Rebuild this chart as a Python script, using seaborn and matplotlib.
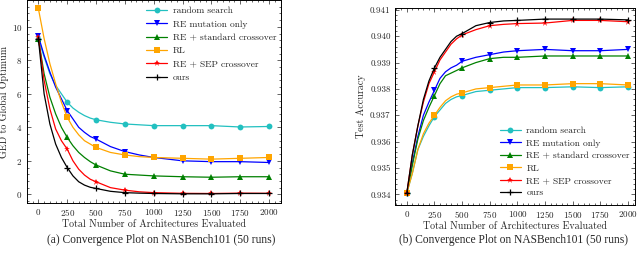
import matplotlib
matplotlib.use("Agg")
import matplotlib.pyplot as plt
import seaborn as sns
from matplotlib.ticker import AutoMinorLocator, MultipleLocator, FormatStrFormatter

# ---------------- data ----------------
evals = [0, 50, 100, 150, 200, 250, 300, 350, 400, 450, 500, 625, 750, 875,
         1000, 1250, 1500, 1750, 2000]
labels = ["random search", "RE mutation only", "RE + standard crossover",
          "RL", "RE + SEP crossover", "ours"]

# (a) GED to global optimum
ged_random = [9.3, 8.2, 7.2, 6.5, 6.0, 5.5, 5.15, 4.9, 4.7, 4.55, 4.45, 4.3, 4.2, 4.15,
              4.1, 4.1, 4.1, 4.02, 4.05]
ged_mut = [9.45, 8.3, 7.3, 6.4, 5.7, 5.0, 4.5, 4.0, 3.7, 3.45, 3.3, 2.85, 2.55, 2.35,
           2.2, 2.0, 1.95, 1.95, 1.9]
ged_std = [9.3, 7.2, 5.8, 4.8, 4.0, 3.4, 2.9, 2.5, 2.2, 1.95, 1.75, 1.4, 1.2, 1.15,
           1.1, 1.05, 1.02, 1.05, 1.05]
ged_rl = [11.1, 9.3, 7.8, 6.6, 5.5, 4.6, 4.0, 3.55, 3.2, 3.0, 2.8, 2.5, 2.35, 2.25,
          2.2, 2.15, 2.1, 2.15, 2.2]
ged_sep = [9.4, 6.8, 5.1, 3.9, 3.2, 2.7, 2.0, 1.5, 1.15, 0.9, 0.75, 0.4, 0.25, 0.15,
           0.1, 0.06, 0.05, 0.07, 0.06]
ged_ours = [9.3, 6.0, 4.2, 3.0, 2.2, 1.6, 1.1, 0.75, 0.55, 0.42, 0.35, 0.18, 0.1, 0.07,
            0.05, 0.03, 0.03, 0.05, 0.05]

# (b) test accuracy
acc_random = [0.93405, 0.9348, 0.9357, 0.9362, 0.9366, 0.93695, 0.9372, 0.93745, 0.9376,
              0.9377, 0.93775, 0.9379, 0.93795, 0.9380, 0.93805, 0.93805, 0.93808, 0.93805, 0.93808]
acc_mut = [0.93405, 0.9352, 0.9362, 0.9370, 0.9375, 0.93795, 0.9384, 0.93865, 0.9388,
           0.9389, 0.93905, 0.9392, 0.9393, 0.9394, 0.93945, 0.9395, 0.93945, 0.93945, 0.9395]
acc_std = [0.93405, 0.9351, 0.9361, 0.9368, 0.9373, 0.93775, 0.9382, 0.9385, 0.9386,
           0.9387, 0.9388, 0.9390, 0.93915, 0.9392, 0.9392, 0.93925, 0.93925, 0.93925, 0.93925]
acc_rl = [0.93405, 0.9348, 0.9357, 0.9363, 0.9367, 0.9370, 0.9373, 0.93755, 0.9377,
          0.9378, 0.93785, 0.9380, 0.93805, 0.9381, 0.93815, 0.93815, 0.9382, 0.9382, 0.93815]
acc_sep = [0.93405, 0.9355, 0.9366, 0.9375, 0.9382, 0.93865, 0.9391, 0.9394, 0.9397,
           0.9399, 0.94005, 0.94025, 0.9404, 0.94045, 0.94048, 0.9405, 0.9406, 0.9406, 0.94055]
acc_ours = [0.93405, 0.9355, 0.9366, 0.9376, 0.9383, 0.9388, 0.9392, 0.9395, 0.9398,
            0.9400, 0.9401, 0.9404, 0.94052, 0.94058, 0.9406, 0.94065, 0.94065, 0.94065, 0.94062]

ged_series = [ged_random, ged_mut, ged_std, ged_rl, ged_sep, ged_ours]
acc_series = [acc_random, acc_mut, acc_std, acc_rl, acc_sep, acc_ours]

colors = ["#22c0c0", "#0000ff", "#008000", "#ffa500", "#ff0000", "#000000"]
markers = ["o", "v", "^", "s", "*", "+"]
msizes = [4.2, 4.2, 4.2, 4.2, 4.8, 5.0]

mark_idx = [i for i, x in enumerate(evals) if x % 250 == 0]

# ---------------- style ----------------
sns.set_style("ticks")
plt.rcParams.update({
    "font.family": ["cmr10", "DejaVu Serif"],
    "axes.formatter.use_mathtext": True,
    "axes.unicode_minus": False,
    "xtick.direction": "in",
    "ytick.direction": "in",
    "xtick.top": True,
    "ytick.right": True,
    "xtick.labelsize": 6.5,
    "ytick.labelsize": 6.5,
    "axes.labelsize": 7.2,
    "xtick.major.size": 3,
    "ytick.major.size": 3,
    "xtick.minor.size": 1.5,
    "ytick.minor.size": 1.5,
    "xtick.major.width": 0.5,
    "ytick.major.width": 0.5,
    "xtick.minor.width": 0.5,
    "ytick.minor.width": 0.5,
    "axes.linewidth": 0.7,
    "axes.edgecolor": "black",
})

fig = plt.figure(figsize=(6.4, 2.63), dpi=100)
ax1 = fig.add_axes([0.0417, 0.228, 0.398, 0.772])
ax2 = fig.add_axes([0.617, 0.2205, 0.375, 0.748])


def draw(ax, series):
    for s, lab, c, m, ms in zip(series, labels, colors, markers, msizes):
        sns.lineplot(x=evals, y=s, ax=ax, color=c, label=lab, linewidth=0.9,
                     marker=m, markersize=ms, markevery=mark_idx,
                     markeredgecolor=c, markeredgewidth=0.9 if m == "+" else 0.0)
    ax.xaxis.set_major_locator(MultipleLocator(250))
    ax.xaxis.set_minor_locator(AutoMinorLocator(5))
    ax.yaxis.set_minor_locator(AutoMinorLocator(5))
    ax.tick_params(which="both", top=True, right=True, direction="in")
    ax.tick_params(which="major", pad=3)
    ax.set_xlabel("Total Number of Architectures Evaluated", labelpad=1)


draw(ax1, ged_series)
ax1.set_xlim(-101, 2107)
ax1.set_ylim(-0.52, 11.6)
ax1.yaxis.set_major_locator(MultipleLocator(2))
ax1.set_ylabel("GED to Global Optimum", labelpad=2)
ax1.legend(loc="upper right", frameon=False, fontsize=6.8, handlelength=2.2,
           handletextpad=0.6, labelspacing=0.5, borderaxespad=0.0,
           bbox_to_anchor=(0.995, 0.985))

draw(ax2, acc_series)
ax2.set_xlim(-108, 2063)
ax2.set_ylim(0.933595, 0.94106)
ax2.yaxis.set_major_locator(MultipleLocator(0.001))
ax2.yaxis.set_major_formatter(FormatStrFormatter("%.3f"))
ax2.set_ylabel("Test Accuracy", labelpad=3)
ax2.legend(loc="lower right", frameon=False, fontsize=6.8, handlelength=2.2,
           handletextpad=0.6, labelspacing=0.4, borderaxespad=0.0,
           bbox_to_anchor=(0.995, 0.02))

fig.text(0.252, 0.087, "(a) Convergence Plot on NASBench101 (50 runs)",
         ha="center", va="center", family="Liberation Serif", fontsize=8.3)
fig.text(0.803, 0.087, "(b) Convergence Plot on NASBench101 (50 runs)",
         ha="center", va="center", family="Liberation Serif", fontsize=8.3)

fig.savefig("out.png", dpi=100)
